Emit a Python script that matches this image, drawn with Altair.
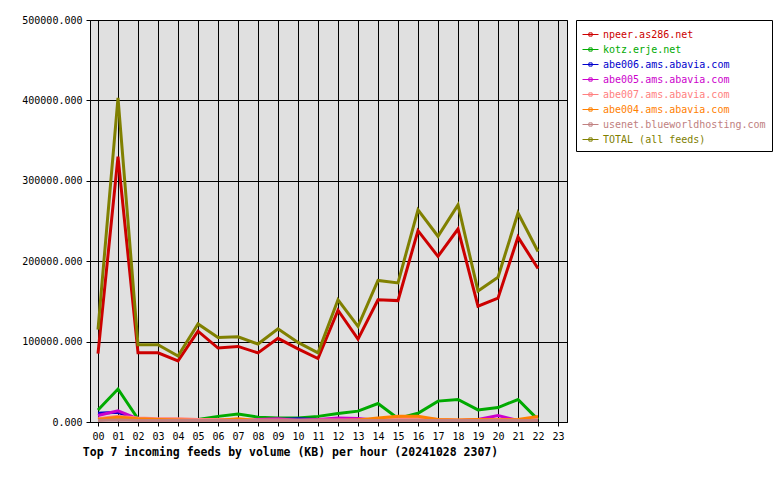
import altair as alt
import pandas as pd

hours = list(range(23))
tick_hours = list(range(24))
y_ticks = [0, 100000, 200000, 300000, 400000, 500000]

series_names = [
    "npeer.as286.net",
    "kotz.erje.net",
    "abe006.ams.abavia.com",
    "abe005.ams.abavia.com",
    "abe007.ams.abavia.com",
    "abe004.ams.abavia.com",
    "usenet.blueworldhosting.com",
    "TOTAL (all feeds)",
]
series_colors = ["#cc0000", "#00aa00", "#0000cc", "#cc00cc", "#ff8080", "#ff8000", "#c08080", "#808000"]

npeer = [85000, 330000, 86000, 86000, 76000, 113000, 92000, 94000, 86000, 104000, 91000, 79000,
         139000, 103000, 152000, 151000, 238000, 206000, 240000, 144000, 154000, 230000, 191000]
kotz = [15000, 41000, 4000, 2000, 2000, 3000, 7000, 10000, 6000, 5000, 5000, 7000,
        10500, 13500, 23000, 4500, 10800, 26000, 28000, 15000, 18000, 28000, 3000]
abe006 = [11000, 12000, 3000, 2000, 1500, 1500, 1500, 1500, 2000, 3000, 4000, 3000,
          2000, 2000, 1500, 3000, 2000, 1500, 1500, 2000, 2000, 1500, 1500]
abe005 = [8000, 14000, 4000, 2000, 1500, 1500, 1500, 1000, 3000, 4000, 2000, 3000,
          5000, 4500, 2000, 2000, 6000, 2000, 1500, 3000, 8000, 2000, 3000]
abe007 = [4000, 7000, 5000, 4000, 4000, 3000, 3000, 3000, 2500, 2500, 2500, 2500,
          2500, 2500, 3000, 4000, 5000, 3000, 2500, 2500, 3000, 2500, 4000]
abe004 = [3000, 6000, 4000, 3000, 2500, 2000, 2000, 4000, 1500, 1500, 1500, 1500,
          1500, 2500, 5000, 7000, 7000, 3000, 2500, 3000, 2500, 3000, 7000]
usenet = [2000, 2500, 2000, 2000, 2000, 2000, 2000, 2000, 2000, 2000, 2000, 2000,
          2000, 2000, 2000, 2000, 2000, 2000, 2000, 2000, 2000, 2000, 2000]
total = [115000, 403000, 96000, 96000, 82000, 122000, 105000, 106000, 97000, 116000, 99000, 86000,
         152000, 119000, 176000, 173000, 264000, 231000, 270000, 163000, 180000, 260000, 212000]

series_values = [npeer, kotz, abe006, abe005, abe007, abe004, usenet, total]

rows = []
for name, vals in zip(series_names, series_values):
    for h, v in zip(hours, vals):
        rows.append({"feed": name, "hour": h, "kb": v})
df = pd.DataFrame(rows)

FONT = "DejaVu Sans Mono"
SYM = "M-1,0H1M-0.2,-0.2H0.2V0.2H-0.2Z"

base = alt.Chart(df).mark_line(strokeWidth=3, clip=True).encode(
    x=alt.X(
        "hour:Q",
        scale=alt.Scale(domain=[-0.4, 23.45], nice=False, zero=False),
        axis=alt.Axis(values=tick_hours, format="02d", title=None, labelFont=FONT,
                      labelFontSize=10, labelColor="black", tickColor="black", tickSize=4,
                      labelPadding=5, domainColor="black", grid=True, gridColor="black",
                      gridOpacity=1, gridWidth=1, labelFlush=False, labelOverlap=False),
    ),
    y=alt.Y(
        "kb:Q",
        scale=alt.Scale(domain=[0, 500000], nice=False),
        axis=alt.Axis(values=y_ticks, format=".3f", title=None, labelFont=FONT,
                      labelFontSize=10, labelColor="black", tickColor="black", tickSize=4,
                      labelPadding=4, domainColor="black", grid=True, gridColor="black",
                      gridOpacity=1, gridWidth=1, labelFlush=False),
    ),
    color=alt.Color(
        "feed:N",
        scale=alt.Scale(domain=series_names, range=series_colors),
        sort=series_names,
        legend=alt.Legend(
            title=None, orient="none", legendX=486, legendY=0,
            strokeColor="black", fillColor="white", padding=6,
            labelFont=FONT, labelFontSize=10, labelOffset=4, labelLimit=300,
            symbolType=SYM, symbolSize=256, symbolStrokeWidth=1,
            rowPadding=1,
            labelColor={"expr": "scale('color', datum.value)"},
        ),
    ),
)

layers = [base.transform_filter(alt.datum.feed == n) for n in series_names]

chart = alt.layer(*layers).properties(
    width=477,
    height=402,
    padding={"left": 90, "top": 20, "right": 213, "bottom": 58},
    autosize=alt.AutoSizeParams(type="none"),
    background="white",
    title=alt.TitleParams(
        "Top 7 incoming feeds by volume (KB) per hour (20241028 2307)",
        orient="bottom", anchor="start", font=FONT, fontSize=11.5, fontWeight="bold",
        color="black", dx=61, offset=6,
    ),
).configure_view(
    fill="#e0e0e0", stroke="black", strokeWidth=1
)

chart.save("out.html", embed_options={"renderer": "svg", "actions": False})
